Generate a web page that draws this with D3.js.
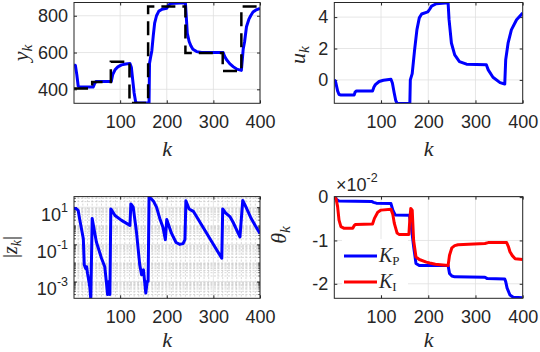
<!DOCTYPE html>
<html>
<head>
<meta charset="utf-8">
<script src="https://cdn.jsdelivr.net/npm/d3@7"></script>
<style>
body { margin: 0; background: #fff; }
svg { display: block; }
.tick text { font-family: "Liberation Sans", Arial, sans-serif; font-size: 18px; fill: #262626; }
</style>
</head>
<body>
<svg width="540" height="352"></svg>
<script>
// ---- data ----
var kTicks = [100, 200, 300, 400];

// y_k (output) and its reference
var kY = [1, 4, 7, 10, 14, 42, 45, 48, 81, 84, 89, 95, 103, 112, 121, 124, 127, 130, 133, 135, 162, 163, 165, 168, 171, 174, 178, 183, 190, 200, 203, 208, 240, 242, 244, 248, 252, 256, 264, 275, 321, 324, 328, 335, 343, 350, 360, 362, 364, 367, 371, 376, 380, 385, 392, 400];
var yVals = [533, 530, 480, 418, 412, 412, 430, 442, 443, 480, 506, 522, 533, 538, 540, 520, 450, 380, 335, 326, 326, 540, 570, 610, 690, 760, 800, 825, 835, 840, 855, 866, 870, 790, 705, 660, 635, 618, 605, 600, 600, 580, 562, 540, 522, 510, 503, 560, 620, 660, 740, 780, 800, 820, 832, 840];
var kRef = [1, 40, 80, 120, 160, 240, 320, 360, 400];
var refVals = [405, 440, 550, 325, 850, 597, 500, 850, 850];
var yTicks = [400, 600, 800];

// u_k (input)
var kU = [1, 4, 8, 11, 15, 43, 45, 48, 82, 85, 88, 96, 105, 121, 124, 128, 131, 134, 161, 162, 166, 171, 176, 181, 186, 199, 203, 207, 217, 242, 244, 249, 256, 266, 281, 323, 327, 337, 352, 362, 364, 369, 376, 387, 400];
var uVals = [0.02, -0.15, -0.7, -0.93, -0.96, -0.96, -0.78, -0.7, -0.7, -0.45, -0.3, -0.1, -0.02, 0.04, -0.2, -0.85, -1.3, -1.5, -1.5, 0.0, 0.4, 1.9, 3.2, 3.95, 4.2, 4.33, 4.5, 4.7, 4.85, 4.92, 3.85, 2.35, 1.6, 1.17, 1.0, 0.96, 0.64, 0.17, -0.17, -0.26, 1.28, 2.34, 3.19, 3.83, 4.26];
var uTicks = [0, 2, 4];

// |z_k|
var kZ = [1, 6, 10, 13, 17, 21, 23, 26, 28, 30, 33, 35, 37, 40, 49, 60, 67, 71, 73, 76, 78, 80, 89, 103, 121, 123, 128, 135, 142, 146, 150, 155, 158, 160, 162, 167, 172, 178, 185, 192, 197, 200, 210, 220, 228, 235, 239, 241, 248, 257, 318, 320, 326, 336, 342, 357, 363, 370, 380, 390, 400];
var zVals = [8.9, 8.3, 6.6, 2.4, 0.7, 0.2, 0.008, 0.005, 0.0063, 0.0028, 0.001, 0.0005, 0.00011, 2.5, 0.135, 0.018, 0.0063, 0.00066, 0.0002, 0.001, 0.0002, 8.1, 3.6, 1.95, 1.05, 15, 10, 0.47, 0.008, 0.0023, 0.0043, 0.00024, 0.001, 0.001, 35, 28, 20, 10, 2.5, 0.8, 0.18, 2.2, 0.4, 0.126, 0.1, 0.11, 0.18, 22, 8, 6, 0.018, 8.1, 5, 3, 1.6, 0.25, 23, 10, 2.8, 1, 0.38];
var zTicks = [1e-3, 1e-1, 1e1];

// theta_k, in units of 1e-2
var kTh = [1, 5, 11, 80, 84, 90, 121, 125, 130, 160, 164, 169, 174, 181, 242, 245, 250, 256, 320, 325, 362, 364, 367, 373, 380, 400];
var kpVals = [0, -0.05, -0.09, -0.1, -0.12, -0.14, -0.15, -0.3, -0.41, -0.42, -0.68, -1.14, -1.53, -1.58, -1.58, -1.76, -1.82, -1.84, -1.85, -1.88, -1.89, -1.95, -2.1, -2.26, -2.31, -2.32];
var kTi = [1, 5, 8, 11, 15, 22, 40, 43, 46, 82, 86, 93, 100, 121, 125, 128, 134, 138, 159, 161, 163, 166, 169, 174, 181, 196, 203, 215, 242, 245, 250, 256, 263, 320, 327, 366, 370, 373, 378, 384, 400];
var kiVals = [0, -0.05, -0.22, -0.53, -0.68, -0.72, -0.72, -0.66, -0.63, -0.62, -0.49, -0.35, -0.3, -0.28, -0.4, -0.6, -0.83, -0.86, -0.86, -0.5, -0.26, -0.3, -1.0, -1.38, -1.44, -1.5, -1.52, -1.55, -1.58, -1.34, -1.17, -1.12, -1.1, -1.07, -1.05, -1.05, -1.15, -1.26, -1.35, -1.42, -1.44];
var thTicks = [-2, -1, 0];
var legendNames = ["P", "I"];

// ---- drawing ----
var svg = d3.select("svg");
var axisColor = "#262626";
var gridColor = "#dfdfdf";
var mathFont = "'Liberation Serif', 'Times New Roman', serif";
var plainNum = function (d) { return String(d); }; // keeps the short hyphen minus

function zip(ks, vs) {
    return ks.map(function (k, i) { return [k, vs[i]]; });
}

// one axes box: scales, grid, ticks, frame
function makePanel(id, box, y, yTickVals) {
    var x = d3.scaleLinear().domain([1, 400]).range([box.l, box.r]);
    y.range([box.b, box.t]);
    var g = svg.append("g");

    svg.append("clipPath").attr("id", id)
        .append("rect")
        .attr("x", box.l).attr("y", box.t)
        .attr("width", box.r - box.l).attr("height", box.b - box.t);

    var grid = g.append("g").attr("stroke", gridColor).attr("stroke-width", 0.8);
    grid.selectAll(".gx").data(kTicks).enter().append("line")
        .attr("x1", function (d) { return x(d); }).attr("x2", function (d) { return x(d); })
        .attr("y1", box.t).attr("y2", box.b);
    grid.selectAll(".gy").data(yTickVals).enter().append("line")
        .attr("x1", box.l).attr("x2", box.r)
        .attr("y1", function (d) { return y(d); }).attr("y2", function (d) { return y(d); });

    var xAxis = d3.axisBottom(x).tickValues(kTicks).tickFormat(plainNum).tickSize(-3).tickPadding(12);
    var xg = g.append("g").attr("transform", "translate(0," + box.b + ")").call(xAxis);
    xg.select(".domain").remove();
    xg.selectAll(".tick line").attr("stroke", axisColor);

    var xTop = d3.axisTop(x).tickValues(kTicks).tickSize(-3).tickFormat("");
    var xt = g.append("g").attr("transform", "translate(0," + box.t + ")").call(xTop);
    xt.select(".domain").remove();
    xt.selectAll(".tick line").attr("stroke", axisColor);

    var yAxis = d3.axisLeft(y).tickValues(yTickVals).tickFormat(plainNum).tickSize(-3).tickPadding(6);
    var yg = g.append("g").attr("transform", "translate(" + box.l + ",0)").call(yAxis);
    yg.select(".domain").remove();
    yg.selectAll(".tick line").attr("stroke", axisColor);

    var yRight = d3.axisRight(y).tickValues(yTickVals).tickSize(-3).tickFormat("");
    var yr = g.append("g").attr("transform", "translate(" + box.r + ",0)").call(yRight);
    yr.select(".domain").remove();
    yr.selectAll(".tick line").attr("stroke", axisColor);

    return { g: g, x: x, y: y, box: box, yg: yg, id: id };
}

function frame(p) {
    var b = p.box;
    svg.append("rect")
        .attr("x", b.l).attr("y", b.t)
        .attr("width", b.r - b.l).attr("height", b.b - b.t)
        .attr("fill", "none").attr("stroke", axisColor).attr("stroke-width", 1);
}

function drawLine(p, pts, color, width) {
    var line = d3.line()
        .x(function (d) { return p.x(d[0]); })
        .y(function (d) { return p.y(d[1]); });
    p.g.append("path")
        .datum(pts)
        .attr("clip-path", "url(#" + p.id + ")")
        .attr("fill", "none")
        .attr("stroke", color)
        .attr("stroke-width", width || 3)
        .attr("stroke-linejoin", "round")
        .attr("d", line);
}

// math label: italic letters, subscript k
function mathLabel(x, y, rotate, parts, size) {
    var t = svg.append("text")
        .attr("transform", "translate(" + x + "," + y + ")" + (rotate ? " rotate(-90)" : ""))
        .attr("text-anchor", "middle")
        .attr("font-family", mathFont)
        .attr("font-size", size + "px")
        .attr("fill", axisColor);
    parts.forEach(function (p) {
        var s = t.append("tspan").text(p.text);
        if (p.italic) s.attr("font-style", "italic");
        if (p.sub) s.attr("font-size", (size * 0.7) + "px").attr("dy", p.dy);
        if (p.back) s.attr("dy", p.back);
    });
    return t;
}

// panel 1: y_k
var p1 = makePanel("c1", { l: 74, r: 260, t: 2.5, b: 103.3 }, d3.scaleLinear().domain([324, 872]), yTicks);
drawLine(p1, zip(kY, yVals), "#0000ff");
var refLine = d3.line().curve(d3.curveStepAfter)
    .x(function (d) { return p1.x(d[0]); })
    .y(function (d) { return p1.y(d[1]); });
p1.g.append("path")
    .datum(zip(kRef, refVals))
    .attr("clip-path", "url(#c1)")
    .attr("fill", "none").attr("stroke", "#000").attr("stroke-width", 2.5)
    .attr("stroke-dasharray", "14,7")
    .attr("d", refLine);
frame(p1);

// panel 2: u_k
var p2 = makePanel("c2", { l: 334.3, r: 522.7, t: 2.5, b: 103.3 }, d3.scaleLinear().domain([-1.49, 4.93]), uTicks);
drawLine(p2, zip(kU, uVals), "#0000ff");
frame(p2);

// panel 3: |z_k| on a log axis
var zScale = d3.scaleLog().domain([Math.pow(10, -3.9), Math.pow(10, 1.57)]);
var box3 = { l: 74, r: 260, t: 196.6, b: 298.3 };
var minorY = [];
for (var e = -4; e <= 1; e++) {
    for (var m = 1; m <= 9; m++) {
        var v = m * Math.pow(10, e);
        if (v >= zScale.domain()[0] && v <= zScale.domain()[1] &&
            !(m === 1 && (e === -3 || e === -1 || e === 1))) minorY.push(v);
    }
}
var minorX = d3.range(10, 400, 10).filter(function (d) { return d % 100 !== 0; });
var p3 = makePanel("c3", box3, zScale, zTicks);
// minor grid sits under everything else
var mg = p3.g.insert("g", ":first-child").attr("stroke", "#c4c4c4").attr("stroke-width", 0.7).attr("stroke-dasharray", "2,1.5");
mg.selectAll(".mx").data(minorX).enter().append("line")
    .attr("x1", function (d) { return p3.x(d); }).attr("x2", function (d) { return p3.x(d); })
    .attr("y1", box3.t).attr("y2", box3.b);
mg.selectAll(".my").data(minorY).enter().append("line")
    .attr("x1", box3.l).attr("x2", box3.r)
    .attr("y1", function (d) { return zScale(d); }).attr("y2", function (d) { return zScale(d); });
// minor tick marks on the log axis
var mt = p3.g.append("g").attr("stroke", axisColor).attr("stroke-width", 0.8);
mt.selectAll(".ml").data(minorY).enter().append("line")
    .attr("x1", box3.l).attr("x2", box3.l + 1.8)
    .attr("y1", function (d) { return zScale(d); }).attr("y2", function (d) { return zScale(d); });
mt.selectAll(".mr").data(minorY).enter().append("line")
    .attr("x1", box3.r).attr("x2", box3.r - 1.8)
    .attr("y1", function (d) { return zScale(d); }).attr("y2", function (d) { return zScale(d); });
// 10^n tick labels
p3.yg.selectAll(".tick text").each(function (d) {
    var t = d3.select(this).text(null).attr("dy", null).attr("y", 13);
    t.append("tspan").text("10");
    t.append("tspan").attr("dy", -9).attr("font-size", "12.5px").text(Math.round(Math.log10(d)));
});
drawLine(p3, zip(kZ, zVals), "#0000ff");
frame(p3);

// panel 4: theta_k
var p4 = makePanel("c4", { l: 334.3, r: 522.7, t: 196.6, b: 298.3 }, d3.scaleLinear().domain([-2.335, 0.012]), thTicks);
drawLine(p4, zip(kTh, kpVals), "#0000ff");
drawLine(p4, zip(kTi, kiVals), "#ff0000");
frame(p4);

// x10^-2 exponent label
var ex = svg.append("text").attr("x", 336).attr("y", 191)
    .attr("font-family", "'Liberation Sans', Arial, sans-serif").attr("font-size", "18px").attr("fill", axisColor);
ex.append("tspan").text("\u00d710");
ex.append("tspan").attr("dy", -9).attr("font-size", "12.5px").text("-2");

// legend
var lg = svg.append("g");
lg.append("rect").attr("x", 342).attr("y", 239).attr("width", 66).attr("height", 56).attr("fill", "#fff");
[["#0000ff", 256], ["#ff0000", 282]].forEach(function (e, i) {
    lg.append("line").attr("x1", 344).attr("x2", 377).attr("y1", e[1]).attr("y2", e[1])
        .attr("stroke", e[0]).attr("stroke-width", 3);
    var t = lg.append("text").attr("x", 379).attr("y", e[1] + 6)
        .attr("font-family", mathFont).attr("font-size", "20px").attr("fill", axisColor);
    t.append("tspan").attr("font-style", "italic").text("K");
    t.append("tspan").attr("font-size", "13px").attr("dy", 3).text(legendNames[i]);
});

// axis labels
mathLabel(28, 53, true, [{ text: "y", italic: true }, { text: "k", italic: true, sub: true, dy: 4 }], 22);
mathLabel(305, 55, true, [{ text: "u", italic: true }, { text: "k", italic: true, sub: true, dy: 4 }], 22);
mathLabel(17, 247, true, [{ text: "|" }, { text: "z", italic: true }, { text: "k", italic: true, sub: true, dy: 4 }, { text: "|", back: -4 }], 20);
mathLabel(286, 235, true, [{ text: "\u03b8", italic: true }, { text: "k", italic: true, sub: true, dy: 4 }], 22);
mathLabel(167, 156, false, [{ text: "k", italic: true }], 22);
mathLabel(428.5, 156, false, [{ text: "k", italic: true }], 22);
mathLabel(167, 347, false, [{ text: "k", italic: true }], 22);
mathLabel(428.5, 347, false, [{ text: "k", italic: true }], 22);
</script>
</body>
</html>
